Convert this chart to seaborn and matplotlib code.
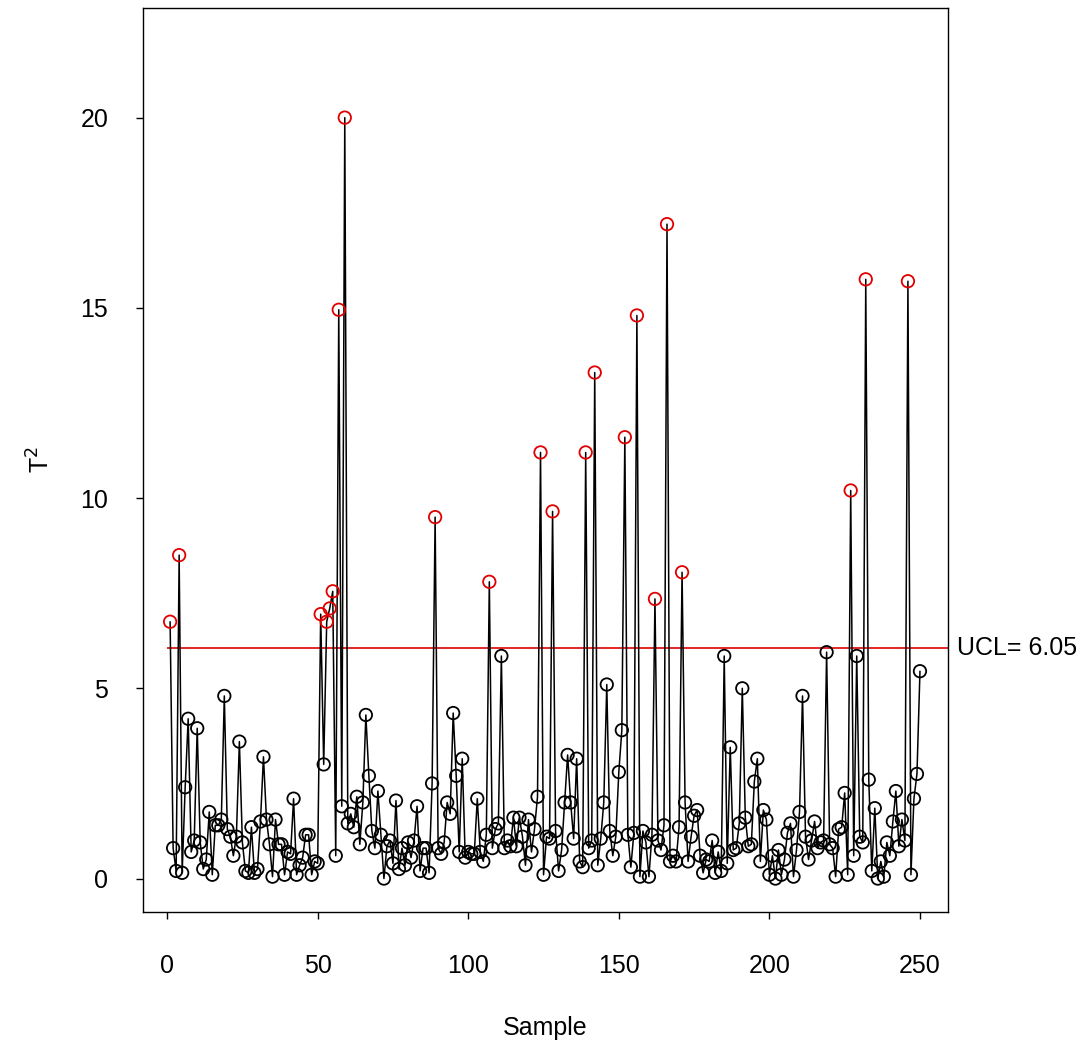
import numpy as np
import pandas as pd
import matplotlib
matplotlib.use("Agg")
import matplotlib.pyplot as plt
import seaborn as sns

t2_values = [
    6.75, 0.8, 0.2, 8.5, 0.15, 2.4, 4.2, 0.7, 1.0, 3.95,
    0.95, 0.25, 0.5, 1.75, 0.1, 1.4, 1.4, 1.55, 4.8, 1.3,
    1.1, 0.6, 1.1, 3.6, 0.95, 0.2, 0.15, 1.35, 0.15, 0.25,
    1.5, 3.2, 1.55, 0.9, 0.05, 1.55, 0.9, 0.9, 0.1, 0.7,
    0.65, 2.1, 0.1, 0.35, 0.55, 1.15, 1.15, 0.1, 0.45, 0.4,
    6.95, 3.0, 6.75, 7.1, 7.55, 0.6, 14.95, 1.9, 20.0, 1.45,
    1.7, 1.35, 2.15, 0.9, 2.0, 4.3, 2.7, 1.25, 0.8, 2.3,
    1.15, 0.0, 0.85, 1.0, 0.4, 2.05, 0.25, 0.8, 0.35, 0.95,
    0.55, 1.0, 1.9, 0.2, 0.8, 0.8, 0.15, 2.5, 9.5, 0.8,
    0.65, 0.95, 2.0, 1.7, 4.35, 2.7, 0.7, 3.15, 0.55, 0.7,
    0.65, 0.65, 2.1, 0.7, 0.45, 1.15, 7.8, 0.8, 1.3, 1.45,
    5.85, 0.8, 1.0, 0.85, 1.6, 0.85, 1.6, 1.1, 0.35, 1.55,
    0.7, 1.3, 2.15, 11.2, 0.1, 1.1, 1.05, 9.65, 1.25, 0.2,
    0.75, 2.0, 3.25, 2.0, 1.05, 3.15, 0.45, 0.3, 11.2, 0.8,
    1.0, 13.3, 0.35, 1.05, 2.0, 5.1, 1.25, 0.6, 1.1, 2.8,
    3.9, 11.6, 1.15, 0.3, 1.2, 14.8, 0.05, 1.25, 0.95, 0.05,
    1.15, 7.35, 1.0, 0.75, 1.4, 17.2, 0.45, 0.6, 0.45, 1.35,
    8.05, 2.0, 0.45, 1.1, 1.65, 1.8, 0.6, 0.15, 0.5, 0.45,
    1.0, 0.15, 0.7, 0.2, 5.85, 0.4, 3.45, 0.75, 0.8, 1.45,
    5.0, 1.6, 0.85, 0.9, 2.55, 3.15, 0.45, 1.8, 1.55, 0.1,
    0.6, 0.0, 0.75, 0.1, 0.5, 1.2, 1.45, 0.05, 0.75, 1.75,
    4.8, 1.1, 0.5, 1.0, 1.5, 0.8, 0.95, 1.0, 5.95, 0.9,
    0.8, 0.05, 1.3, 1.35, 2.25, 0.1, 10.2, 0.6, 5.85, 1.1,
    0.95, 15.75, 2.6, 0.2, 1.85, 0.0, 0.45, 0.05, 0.95, 0.6,
    1.5, 2.3, 0.85, 1.55, 1.0, 15.7, 0.1, 2.1, 2.75, 5.45,
]
ucl = 6.05
x_ticks = [0, 50, 100, 150, 200, 250]
y_ticks = [0, 5, 10, 15, 20]

df = pd.DataFrame({"Sample": np.arange(1, len(t2_values) + 1), "T2": t2_values})
df["out"] = df["T2"] > ucl

sns.set_theme(style="ticks")
plt.rcParams["font.family"] = ["Liberation Sans", "DejaVu Sans"]

fig = plt.figure(figsize=(10.9, 10.44), dpi=100)
ax = fig.add_axes([0.1312, 0.1264, 0.8697 - 0.1312, 0.9923 - 0.1264])

sns.lineplot(data=df, x="Sample", y="T2", ax=ax, color="black", linewidth=1.1,
             estimator=None, sort=False)
ax.hlines(ucl, 0, 262, color="#e00000", linewidth=1.2, zorder=1)
sns.scatterplot(data=df[~df["out"]], x="Sample", y="T2", ax=ax, marker="o",
                s=80, facecolor="none", edgecolor="black", linewidth=1.3, zorder=3)
sns.scatterplot(data=df[df["out"]], x="Sample", y="T2", ax=ax, marker="o",
                s=80, facecolor="none", edgecolor="#e00000", linewidth=1.3, zorder=4)

ax.set_xlim(-8.0, 259.3)
ax.set_ylim(-0.88, 22.88)
ax.set_xticks(x_ticks)
ax.set_yticks(y_ticks)
ax.tick_params(axis="both", labelsize=18, length=5, width=1, direction="out",
               color="black", labelcolor="black")
ax.tick_params(axis="x", pad=25)
ax.tick_params(axis="y", pad=20)
for s in ax.spines.values():
    s.set_visible(True)
    s.set_color("black")
    s.set_linewidth(1)
ax.set_facecolor("white")
ax.set_xlabel("Sample", fontsize=18, color="black", va="center")
ax.set_ylabel(r"T$^2$", fontsize=18, color="black", va="center")
ax.xaxis.set_label_coords(0.5, (912 - 1028) / 904)
ax.yaxis.set_label_coords((41 - 143) / 805, 0.5)
ax.text(1.011, (ucl + 0.88) / 23.76, "UCL= 6.05", transform=ax.transAxes,
        fontsize=18, va="center", ha="left", color="black", clip_on=False)

fig.savefig("out.png", dpi=100, facecolor="white")
